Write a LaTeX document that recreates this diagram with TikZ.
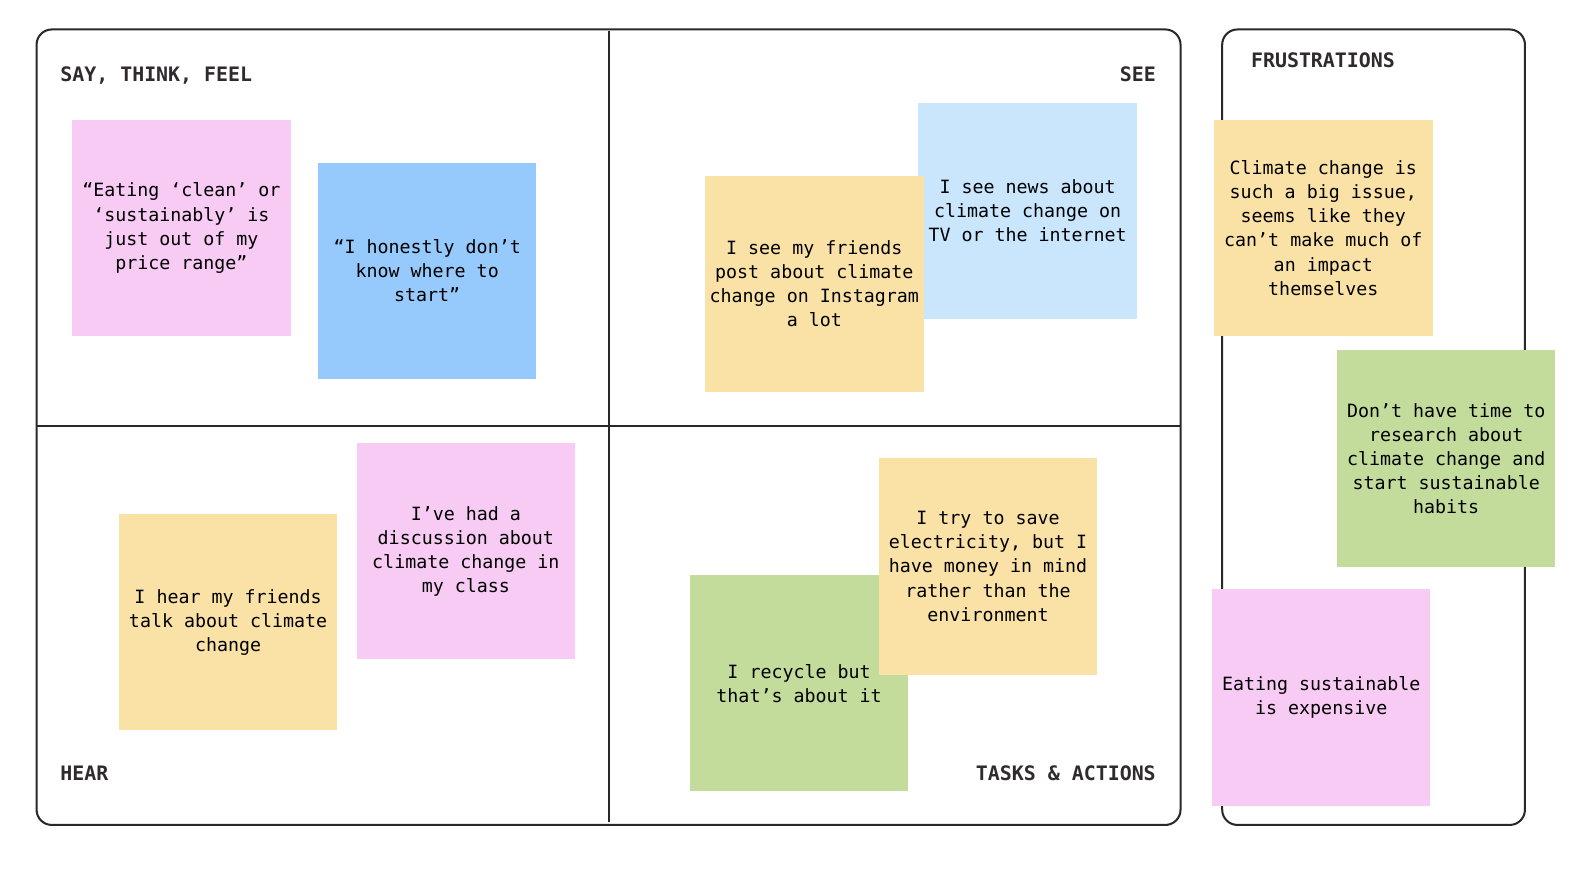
\documentclass[tikz,border=0pt]{standalone}
\usepackage{fontspec}
\setmonofont{DejaVu Sans Mono}
\definecolor{notePink}{HTML}{F8CBF4}
\definecolor{noteBlue}{HTML}{96C9FC}
\definecolor{noteSky}{HTML}{C9E6FD}
\definecolor{noteYellow}{HTML}{FAE2A7}
\definecolor{noteGreen}{HTML}{C3DC9C}
\definecolor{frameDark}{HTML}{2B2729}
\definecolor{labelDark}{HTML}{2E2A2D}
\begin{document}
\begin{tikzpicture}[x=0.5pt, y=-0.5pt,
  note/.style={inner sep=0pt, minimum width=107.5pt, minimum height=106.5pt,
    align=center, font=\ttfamily\fontsize{9}{11.85}\selectfont},
  zone/.style={inner sep=0pt, text=labelDark,
    font=\ttfamily\bfseries\fontsize{9.8}{12}\selectfont},
  board/.style={draw=frameDark, line width=1pt, rounded corners=7.5pt}]
  \useasboundingbox (0,0) rectangle (1568,855);
  % boards
  \draw[board] (36,29) rectangle (1162,812);
  \draw[board] (1203,29) rectangle (1501,812);
  \draw[frameDark, line width=1pt] (599,31) -- (599,809);
  \draw[frameDark, line width=1pt] (36,419) -- (1162,419);
  % quadrant titles
  \node[zone, anchor=base west] (sayLabel) at (59,80) {SAY, THINK, FEEL};
  \node[zone, anchor=base east] (seeLabel) at (1138,80) {SEE};
  \node[zone, anchor=base west] (hearLabel) at (59,768) {HEAR};
  \node[zone, anchor=base east] (taskLabel) at (1138,768) {TASKS \& ACTIONS};
  \node[zone, anchor=base west] (frusLabel) at (1231,66) {FRUSTRATIONS};
  % say, think, feel
  \node[note, fill=notePink] (sayA) at (178.5,224.5)
    {“Eating ‘clean’ or\\‘sustainably’ is\\just out of my\\price range”};
  \node[note, fill=noteBlue] (sayB) at (420.5,266.5)
    {“I honestly don’t\\know where to\\start”};
  % see
  \node[note, fill=noteSky] (seeB) at (1011.5,207.5)
    {I see news about\\climate change on\\TV or the internet};
  \node[note, fill=noteYellow] (seeA) at (801.5,279.5)
    {I see my friends\\post about climate\\change on Instagram\\a lot};
  % hear
  \node[note, fill=notePink] (hearB) at (458.5,542.5)
    {I’ve had a\\discussion about\\climate change in\\my class};
  \node[note, fill=noteYellow] (hearA) at (224.5,612.5)
    {I hear my friends\\talk about climate\\change};
  % tasks & actions
  \node[note, fill=noteGreen] (taskA) at (786.5,672.5)
    {I recycle but\\that’s about it};
  \node[note, fill=noteYellow] (taskB) at (972.5,557.5)
    {I try to save\\electricity, but I\\have money in mind\\rather than the\\environment};
  % frustrations
  \node[note, fill=noteYellow] (frusA) at (1302.5,224.5)
    {Climate change is\\such a big issue,\\seems like they\\can’t make much of\\an impact\\themselves};
  \node[note, fill=noteGreen] (frusB) at (1423.5,451.5)
    {Don’t have time to\\research about\\climate change and\\start sustainable\\habits};
  \node[note, fill=notePink] (frusC) at (1300.5,686.5)
    {Eating sustainable\\is expensive};
\end{tikzpicture}
\end{document}
